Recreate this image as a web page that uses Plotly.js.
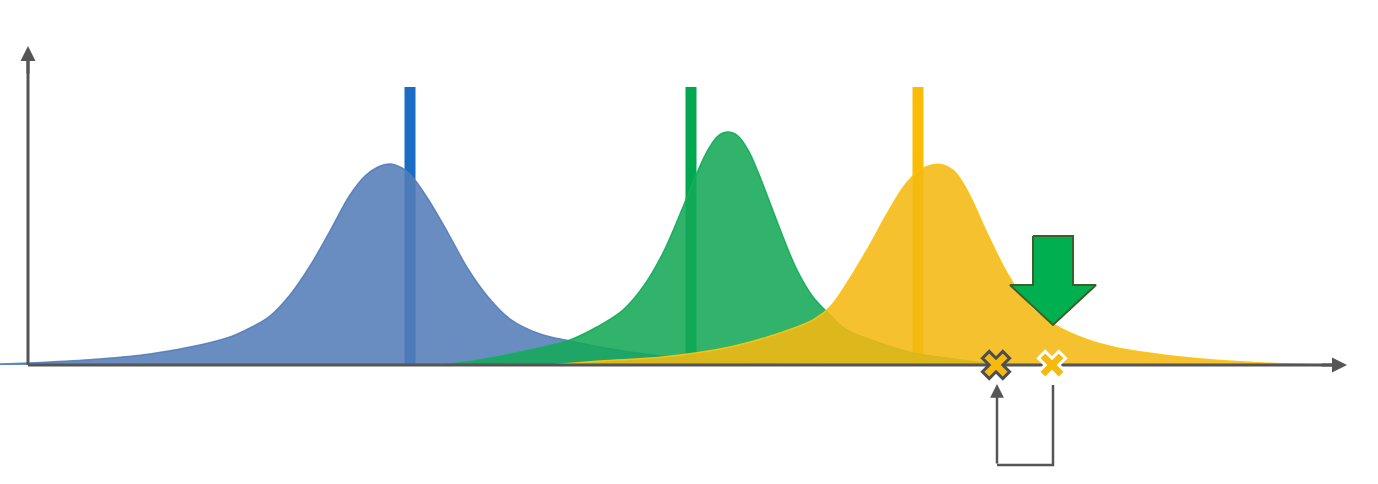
<!DOCTYPE html>
<html>
<head>
<meta charset="utf-8">
<script src="https://cdn.plot.ly/plotly-3.0.1.min.js"></script>
<style>
  html, body { margin: 0; padding: 0; background: #fff; }
  #chart { width: 1378px; height: 484px; }
</style>
</head>
<body>
<div id="chart"></div>
<script>
// ── Data (x in screen units, y = height above the baseline) ────────────────
const blueX   = [0, 50, 100, 150, 200, 230, 250, 270, 290, 310, 330, 350, 365, 378, 390, 402, 414, 428, 448, 468, 488, 510, 540, 570, 600, 630, 670, 720, 800, 900];
const blueY   = [1, 3, 6, 11, 20, 28, 37, 49, 70, 99, 134, 170, 189, 198, 201, 197, 186, 166, 132, 96, 68, 46, 31, 24, 18, 13, 8, 4, 2, 0];

const greenX  = [440, 480, 530, 570, 597, 623, 643, 663, 683, 697, 708, 718, 728, 738, 748, 758, 770, 783, 797, 813, 827, 847, 880, 913, 947, 975, 1010];
const greenY  = [0, 5, 15, 25, 38, 55, 78, 112, 158, 192, 215, 229, 233, 229, 215, 193, 162, 128, 95, 68, 53, 35, 22, 12, 7, 3, 0];

const yellowX = [550, 600, 663, 730, 780, 813, 830, 847, 867, 887, 905, 920, 932, 943, 955, 968, 987, 1007, 1027, 1047, 1080, 1113, 1163, 1213, 1263, 1330];
const yellowY = [0, 4, 8, 18, 32, 45, 58, 82, 115, 151, 180, 195, 200, 200, 193, 173, 132, 92, 62, 45, 28, 18, 10, 5, 2, 0];

// vertical marker bars
const barX      = [410, 691, 918];
const barHeight = [278, 278, 278];

// the two "x" points on the axis
const pointX = [996, 1052];
const pointY = [0, 0];

// green down arrow: centre, shaft top, head base, tip, half widths
const arrowCenter = 1053;
const arrowLevels = [129, 80, 40];   // shaft top, head base, tip
const arrowHalf   = [20, 43];        // shaft, head

// bracket under the axis
const bracketX = [1053, 1053, 997];
const bracketY = [-20, -100, -100];

const AXIS_COLOR = '#555555';

// ── Build arrow polygon from its values ─────────────────────────────────────
const ax0 = arrowCenter;
const arrowPolyX = [ax0 - arrowHalf[0], ax0 + arrowHalf[0], ax0 + arrowHalf[0], ax0 + arrowHalf[1], ax0,
                    ax0 - arrowHalf[1], ax0 - arrowHalf[0], ax0 - arrowHalf[0]];
const arrowPolyY = [arrowLevels[0], arrowLevels[0], arrowLevels[1], arrowLevels[1], arrowLevels[2],
                    arrowLevels[1], arrowLevels[1], arrowLevels[0]];

function curve(x, y, fill, line) {
  return {
    x: x, y: y, type: 'scatter', mode: 'lines',
    fill: 'tozeroy', fillcolor: fill,
    line: { color: line, width: 1.5, shape: 'spline', smoothing: 1 },
    hoverinfo: 'skip',
  };
}

const traces = [
  {
    x: barX, y: barHeight, type: 'bar', width: 11,
    marker: { color: ['#1a6cc4', '#00a84f', '#fbbc05'], line: { width: 0 } },
    hoverinfo: 'skip',
  },
  curve(blueX, blueY, 'rgba(84,125,184,0.88)', 'rgba(84,125,184,0.9)'),
  curve(greenX, greenY, 'rgba(20,168,88,0.88)', 'rgba(20,175,90,0.95)'),
  curve(yellowX, yellowY, 'rgba(244,184,18,0.88)', 'rgba(250,195,20,0.95)'),
  // axes
  {
    x: [28, 1340], y: [0, 0], type: 'scatter', mode: 'lines',
    line: { color: AXIS_COLOR, width: 3 }, hoverinfo: 'skip',
  },
  {
    x: [28, 28], y: [0, 312], type: 'scatter', mode: 'lines',
    line: { color: AXIS_COLOR, width: 3 }, hoverinfo: 'skip',
  },
  // bracket
  {
    x: bracketX, y: bracketY, type: 'scatter', mode: 'lines',
    line: { color: AXIS_COLOR, width: 2.5 }, hoverinfo: 'skip',
  },
  // green arrow
  {
    x: arrowPolyX, y: arrowPolyY, type: 'scatter', mode: 'lines',
    fill: 'toself', fillcolor: '#00b050',
    line: { color: '#3f5f2a', width: 2 }, hoverinfo: 'skip',
  },
  // x points
  {
    x: pointX, y: pointY, type: 'scatter', mode: 'markers',
    marker: {
      symbol: 'x', size: 24, color: '#f6b90e',
      line: { color: ['#4e4e4e', '#ffffff'], width: 3 },
    },
    hoverinfo: 'skip',
  },
];

const layout = {
  width: 1378,
  height: 484,
  margin: { t: 0, r: 0, b: 0, l: 0, pad: 0 },
  paper_bgcolor: '#ffffff',
  plot_bgcolor: '#ffffff',
  showlegend: false,
  hovermode: false,
  barmode: 'overlay',
  xaxis: { range: [0, 1378], visible: false, fixedrange: true },
  yaxis: { range: [-119, 365], visible: false, fixedrange: true },
  annotations: [
    // axis arrow heads
    { x: 1347, y: 0, ax: 1320, ay: 0, xref: 'x', yref: 'y', axref: 'x', ayref: 'y',
      text: '', showarrow: true, arrowhead: 2, arrowsize: 1, arrowwidth: 3, arrowcolor: AXIS_COLOR },
    { x: 28, y: 319, ax: 28, ay: 290, xref: 'x', yref: 'y', axref: 'x', ayref: 'y',
      text: '', showarrow: true, arrowhead: 2, arrowsize: 1, arrowwidth: 3, arrowcolor: AXIS_COLOR },
    // bracket arrow head
    { x: 997, y: -19, ax: 997, ay: -100, xref: 'x', yref: 'y', axref: 'x', ayref: 'y',
      text: '', showarrow: true, arrowhead: 2, arrowsize: 1.1, arrowwidth: 2.5, arrowcolor: AXIS_COLOR },
  ],
};

Plotly.newPlot('chart', traces, layout, { displayModeBar: false, staticPlot: true });
</script>
</body>
</html>
